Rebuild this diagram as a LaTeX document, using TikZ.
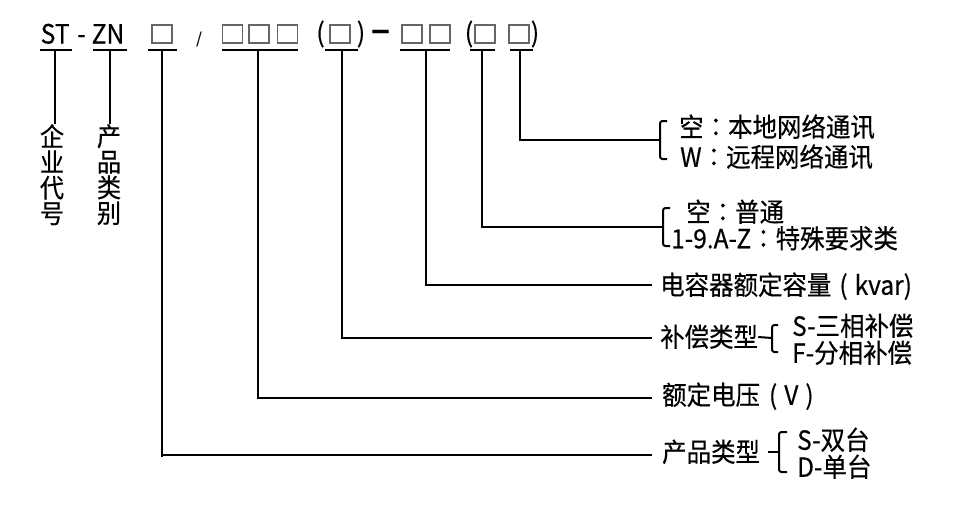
\documentclass[tikz,border=0pt]{standalone}
\usepackage{fontspec}
\setmainfont{Noto Sans CJK SC}[FakeBold=0.4,FakeStretch=0.93]
\newfontfamily\tcf{Noto Sans CJK TC}[FakeBold=0.4,FakeStretch=0.93]
\newcommand\pcolon{{\tcf ：}}
\usetikzlibrary{calc}
\begin{document}
\begin{tikzpicture}[x=1pt,y=-1pt,
  ln/.style={line width=2pt,black},
  bx/.style={draw=black!60,line width=1.3pt,minimum width=20pt,minimum height=18pt,inner sep=0pt},
  toptxt/.style={inner sep=0pt,font=\fontsize{26.5}{28}\selectfont},
  lbl/.style={inner sep=0pt,anchor=west,font=\fontsize{26.3}{28}\selectfont,text height=22.5pt,text depth=3pt},
  vt/.style={inner sep=0pt,anchor=north,align=center,font=\fontsize{26}{25.6}\selectfont},
  brk/.style={ln,rounded corners=2.5pt}]
\useasboundingbox (0,0) rectangle (959,523);

% ---- top code row ----
\node[toptxt,anchor=base west] (st) at (40.5,43.5) {ST};
\node[toptxt,anchor=base west] (hy) at (77,43.5) {-};
\node[toptxt,anchor=base west] (zn) at (91.5,43.5) {ZN};
\node[bx] (b1) at (162,34) {};
\node[inner sep=0pt,font=\fontsize{15}{18}\selectfont] (sl) at (199,39) {/};
\node[bx] (b2) at (232.5,34) {};
\node[bx] (b3) at (259,34) {};
\node[bx] (b4) at (287.5,34) {};
\node[toptxt] (p1) at (320.5,34) {(};
\node[bx] (b5) at (340,34) {};
\node[toptxt] (p2) at (361,34) {)};
\node[inner sep=0pt,font=\fontsize{30}{30}\selectfont\bfseries,xscale=1.3] (dd) at (380.5,35) {–};
\node[bx] (b6) at (412,34) {};
\node[bx] (b7) at (440,34) {};
\node[toptxt] (p3) at (469,34) {(};
\node[bx] (b8) at (485,34) {};
\node[bx] (b9) at (519,34) {};
\node[toptxt] (p4) at (535,34) {)};

% underlines
\draw[ln] (40,50) -- (72,50);
\draw[ln] (93,50) -- (127,50);
\draw[ln] (148,50) -- (177,50);
\draw[ln] (222,50) -- (298,50);
\draw[ln] (325,50) -- (358,50);
\draw[ln] (400,50) -- (450,50);
\draw[ln] (470,50) -- (495,50);
\draw[ln] (510,50) -- (533,50);
\coordinate (m1) at (55,50);
\coordinate (m2) at (110,50);
\coordinate (m3) at (162,50);
\coordinate (m4) at (258,50);
\coordinate (m5) at (342,50);
\coordinate (m6) at (426,50);
\coordinate (m7) at (482,50);
\coordinate (m8) at (520,50);

% ---- vertical labels ----
\node[vt] (c1) at (52,124) {企\\业\\代\\号};
\node[vt] (c2) at (109,124) {产\\品\\类\\别};
\draw[ln] (m1) -- (m1 |- c1.north);
\draw[ln] (m2) -- (m2 |- c2.north);

% ---- right labels ----
\node[lbl] (g1a) at (679,127) {空\pcolon 本地网络通讯};
\node[lbl] (g1b) at (680,157) {W\pcolon 远程网络通讯};
\node[lbl] (g2a) at (686,212) {空\pcolon 普通};
\node[lbl] (g2b) at (671,238.5) {1-9.A-Z\pcolon 特殊要求类};
\node[lbl] (t3) at (660,285) {电容器额定容量\hspace{8pt}(\hspace{7pt}kvar)};
\node[lbl] (t4) at (660,337) {补偿类型};
\node[lbl] (g4a) at (792,326) {S-三相补偿};
\node[lbl] (g4b) at (792,353) {F-分相补偿};
\node[lbl] (t5) at (662,395) {额定电压\hspace{9pt}(\hspace{7pt}V\hspace{7pt})};
\node[lbl] (t6) at (662,452) {产品类型};
\node[lbl] (g6a) at (797,440) {S-双台};
\node[lbl] (g6b) at (797,467) {D-单台};

% bracket tips
\coordinate (k1) at (660,140);
\coordinate (k2) at (663,227);
\coordinate (k3) at (652,285);
\coordinate (k4) at (652,338);
\coordinate (k4b) at (772,338);
\coordinate (k5) at (652,398);
\coordinate (k6) at (652,455);
\coordinate (k6b) at (779,452);

% connectors
\draw[ln] (m8) |- (k1);
\draw[ln] (m7) |- (k2);
\draw[ln] (m6) |- (k3);
\draw[ln] (m5) |- (k4);
\draw[ln] (m4) |- (k5);
\draw[ln] (m3) -- ++(0,407) (m3) |- (k6);

% brace cusps
\draw[line width=2.8pt] ($(k1)+(-7,0)$) -- (k1);
\draw[line width=2.8pt] ($(k2)+(-7,0)$) -- (k2);

% brackets
\draw[brk] ($(k1)+(7,-19)$) -- ($(k1)+(0,-19)$) -- ($(k1)+(0,19)$) -- ($(k1)+(7,19)$);
\draw[brk] ($(k2)+(7,-19)$) -- ($(k2)+(0,-19)$) -- ($(k2)+(0,19)$) -- ($(k2)+(7,19)$);
\draw[ln] (t4.east) -- (k4b);
\draw[brk] ($(k4b)+(6,-13)$) -- ($(k4b)+(0,-13)$) -- ($(k4b)+(0,14)$) -- ($(k4b)+(6,14)$);
\draw[line width=2.6pt] ($(t6.east)+(8,0)$) -- (k6b);
\draw[brk] ($(k6b)+(8,-20)$) -- ($(k6b)+(0,-20)$) -- ($(k6b)+(0,20)$) -- ($(k6b)+(8,20)$);
\end{tikzpicture}
\end{document}
